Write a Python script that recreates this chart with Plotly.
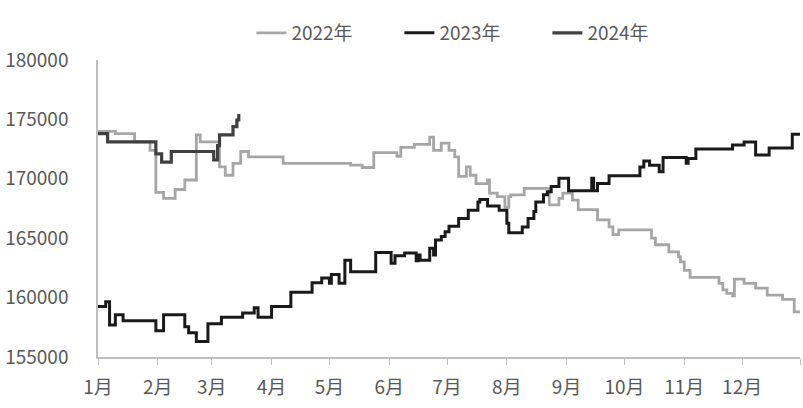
import plotly.graph_objects as go

BASE_YEAR = "2023"

# 2022年
d2022 = ["01-01","01-10","01-20","01-28","01-31","02-04","02-10","02-15","02-21","02-23",
         "03-05","03-08","03-12","03-16","03-20","04-07","05-12","05-18","05-24","06-05",
         "06-07","06-14","06-22","06-24","06-28","07-02","07-05","07-07","07-11","07-13",
         "07-16","07-22","07-23","07-27","07-31","08-02","08-03","08-10","08-23","08-28",
         "08-30","09-04","09-07","09-17","09-23","09-25","09-28","10-15","10-17","10-24",
         "10-29","10-30","11-01","11-04","11-19","11-21","11-23","11-26","11-27","12-02",
         "12-08","12-14","12-22","12-28","12-31"]
v2022 = [174000,173800,173100,172400,168850,168350,169100,169900,173700,173100,
         171000,170300,171300,172300,171850,171300,171150,170950,172200,171900,
         172650,172900,173500,172400,173000,172400,171850,170200,171000,170300,
         169600,169900,168800,168500,167600,168500,168650,169200,167800,168350,
         168800,168200,167400,166550,165950,165300,165700,165000,164450,163850,
         163450,163000,162300,161700,161200,160650,160350,160150,161550,161200,
         160800,160200,159850,158800,158800]

# 2023年
d2023 = ["01-01","01-05","01-07","01-10","01-14","01-31","02-04","02-15","02-17","02-21",
         "02-27","03-06","03-17","03-23","03-25","04-01","04-11","04-22","04-27","05-01",
         "05-02","05-06","05-09","05-12","05-25","06-02","06-04","06-09","06-15","06-16",
         "06-17","06-22","06-24","06-25","06-28","06-30","07-02","07-07","07-12","07-17",
         "07-18","07-22","07-28","08-01","08-02","08-09","08-12","08-15","08-16","08-20",
         "08-22","08-24","08-28","09-02","09-14","09-15","09-17","09-23","10-09","10-11",
         "10-14","10-19","10-21","11-02","11-03","11-07","11-26","12-02","12-08","12-15",
         "12-27","12-31"]
v2023 = [159250,159650,157700,158550,158050,157200,158550,157550,157050,156300,
         157800,158350,158700,159150,158350,159250,160450,161250,161650,161200,
         161950,161200,163150,162180,163800,162900,163520,163750,163100,163580,
         163150,164150,163580,164850,165150,165550,166000,166650,167350,168050,
         168250,167700,167350,166250,165450,165950,166650,167250,168050,168650,
         168900,169350,170050,169000,170050,169000,169600,170250,171000,171500,
         171150,170600,171800,171300,171700,172500,172850,173100,172000,172600,
         173750,173750]

# 2024年
d2024 = ["01-01","01-06","01-31","02-03","02-08","03-02","03-04","03-05","03-12","03-14","03-15"]
v2024 = [173800,173100,172100,171400,172300,171600,172800,173700,174400,174950,175450]

months = ["01","02","03","04","05","06","07","08","09","10","11","12"]
month_labels = ["1月","2月","3月","4月","5月","6月","7月","8月","9月","10月","11月","12月"]

series = [
    ("2022年", d2022, v2022, "#a6a6a6", 2.8),
    ("2023年", d2023, v2023, "#1a1a1a", 3.0),
    ("2024年", d2024, v2024, "#404040", 3.2),
]

fig = go.Figure()
for name, d, v, color, w in series:
    fig.add_trace(go.Scatter(
        x=[f"{BASE_YEAR}-{s}" for s in d], y=v, name=name, mode="lines",
        line=dict(color=color, width=w, shape="hv"),
    ))

font_family = "Noto Sans CJK SC, Noto Sans, sans-serif"
fig.update_layout(
    width=803, height=408,
    margin=dict(l=98, r=3, t=60, b=51),
    plot_bgcolor="white", paper_bgcolor="white",
    font=dict(family=font_family, size=19, color="#595959"),
    showlegend=True,
    legend=dict(orientation="h", x=0.2185, xanchor="left", y=1.091, yanchor="middle",
                font=dict(size=19, color="#595959"),
                entrywidth=103, entrywidthmode="pixels", bgcolor="rgba(0,0,0,0)"),
    xaxis=dict(
        type="date",
        range=[f"{BASE_YEAR}-01-01", f"{BASE_YEAR}-12-31"],
        tickmode="array",
        tickvals=[f"{BASE_YEAR}-{m}-01" for m in months] + [f"{BASE_YEAR}-12-31"],
        ticktext=month_labels + [""],
        ticks="outside", ticklen=6, tickcolor="#bfbfbf",
        ticklabelstandoff=6,
        showline=True, linecolor="#bfbfbf", linewidth=1.5,
        showgrid=False, zeroline=False,
        tickfont=dict(size=19, color="#595959"),
    ),
    yaxis=dict(
        range=[155000, 180000], dtick=5000, tickformat="d",
        showline=True, linecolor="#bfbfbf", linewidth=1.5,
        showgrid=False, zeroline=False,
        ticks="", ticklabelstandoff=24,
        tickfont=dict(size=19, color="#595959"),
    ),
)

fig.write_html("out.html",
               config={"displayModeBar": False},
               post_script="document.body.style.margin='0';document.body.style.overflow='hidden';")
